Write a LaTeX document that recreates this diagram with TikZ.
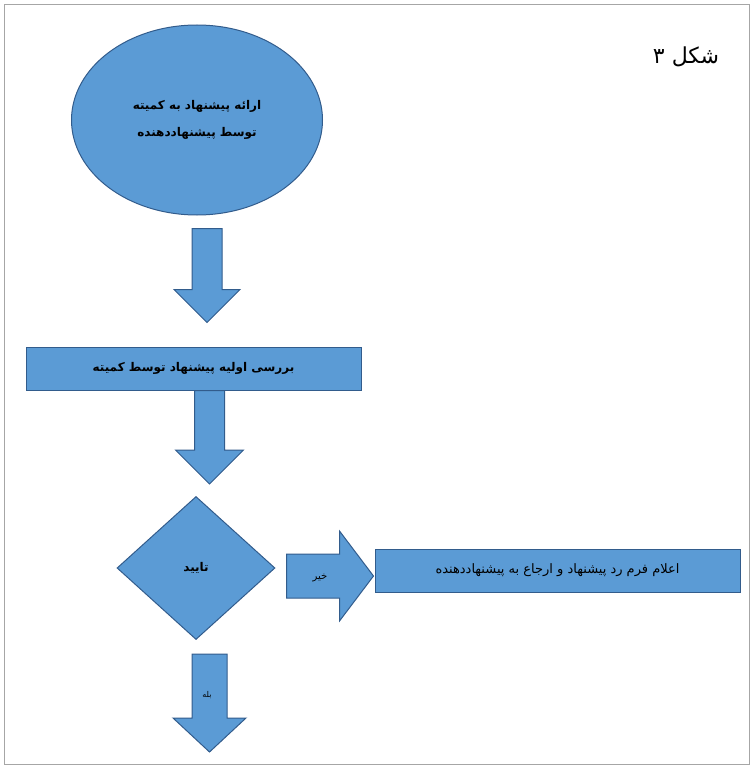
\documentclass[tikz,border=0pt]{standalone}
\usepackage{fontspec}
\newfontfamily\arabicfont[Script=Arabic]{DejaVu Sans}
\TeXXeTstate=1
\usepackage{tikz}
\usetikzlibrary{calc,shapes.geometric,positioning}
\definecolor{boxblue}{RGB}{91,155,213}
\definecolor{boxedge}{RGB}{50,92,140}
\tikzset{
	block/.style={
		draw=boxedge, fill=boxblue, line width=1pt,
		inner sep=0pt, text=black,
		font=\arabicfont\bfseries\fontsize{12}{27}\selectfont
	},
	startnode/.style={block, ellipse, minimum width=251pt, minimum height=190pt, align=center},
	process/.style={block, rectangle, minimum width=335pt, minimum height=43pt},
	decision/.style={block, diamond, minimum width=158pt, minimum height=143pt},
	result/.style={block, rectangle, minimum width=365pt, minimum height=43pt,
		font=\arabicfont\fontsize{13}{15}\selectfont},
	flow_arrow/.style={draw=boxedge, fill=boxblue, line width=1pt, line join=miter},
	flow_label/.style={font=\arabicfont\fontsize{#1}{12}\selectfont, text=black}
}
% #1 tail, #2 tip, #3 half shaft, #4 half head, #5 head length
\newcommand\blockarrow[5]{
	\coordinate (hb) at ($(#2)!#5!(#1)$);
	\draw[flow_arrow] ($(#1)!#3!90:(#2)$) -- ($(hb)!#3!-90:(#1)$) -- ($(hb)!#4!-90:(#1)$)
		-- (#2) -- ($(hb)!#4!90:(#1)$) -- ($(hb)!#3!90:(#1)$) -- ($(#1)!#3!-90:(#2)$) -- cycle;
}

\begin{document}
\begin{tikzpicture}[x=1pt,y=-1pt]
	\useasboundingbox (0,0) rectangle (753,768);
	\draw[gray!70, line width=0.6pt] (4,4) rectangle (749,764);
	\node (title) at (686,57) {\arabicfont\fontsize{22}{24}\selectfont\beginR شکل ۳\endR};
	\node[startnode] (propose) at (197,120) {\beginR ارائه پیشنهاد به کمیته\endR\\\beginR توسط پیشنهاددهنده\endR};
	\node[process] (review) at (193.5,368.5) {\beginR بررسی اولیه پیشنهاد توسط کمیته\endR};
	\node[decision] (approve) at (196,568) {\beginR تایید\endR};
	\node[result] (reject) at (557.5,570.5) {\beginR اعلام فرم رد پیشنهاد و ارجاع به پیشنهاددهنده\endR};
	\coordinate (a1) at ($(propose.south)+(10,13)$);
	\coordinate (b1) at ($(review.north)+(13.5,-24)$);
	\coordinate (a2) at ($(review.south)+(16,0)$);
	\coordinate (b2) at ($(approve.north)+(13.5,-12)$);
	\coordinate (a3) at ($(approve.east)+(11,8)$);
	\coordinate (b3) at ($(reject.west)+(-1,5.5)$);
	\coordinate (a4) at ($(approve.south)+(13.5,14)$);
	\coordinate (b4) at (209.5,752);
	\blockarrow{a1}{b1}{15pt}{33pt}{33pt}
	\blockarrow{a2}{b2}{15pt}{34pt}{34pt}
	\blockarrow{a3}{b3}{22pt}{45pt}{34pt}
	\blockarrow{a4}{b4}{17.5pt}{36.5pt}{34pt}
	\node[flow_label=10] (no) at (320,578) {\beginR خیر\endR};
	\node[flow_label=8] (yes) at (207,695) {\beginR بله\endR};
\end{tikzpicture}
\end{document}
